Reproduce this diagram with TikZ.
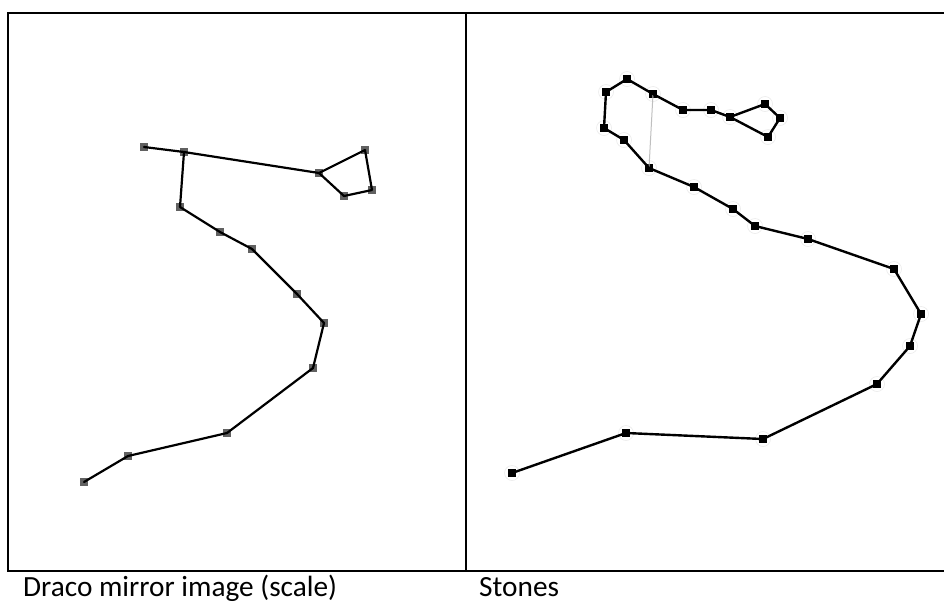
\documentclass[tikz,border=0pt]{standalone}
\usepackage{fontspec}
\setmainfont{Carlito}
\begin{document}
\begin{tikzpicture}[x=1pt,y=-1pt,
  frameline/.style={line width=2.4pt,line cap=rect},
  lstar/.style={rectangle,fill=black!62,minimum size=8.5pt,inner sep=0pt},
  rstar/.style={rectangle,fill=black,minimum size=7.5pt,inner sep=0pt},
  halo/.style={circle,draw=black!8,line width=0.6pt,minimum size=15pt,inner sep=0pt},
  link/.style={line width=2.2pt,line cap=round,line join=round},
  rlink/.style={line width=2.4pt,line cap=round,line join=round},
  faint/.style={line width=1pt,black!25},
  caption/.style={anchor=base west,inner sep=0pt,font=\fontsize{29.3}{31}\selectfont}]
\useasboundingbox (0,0) rectangle (944,603);
\fill[white] (0,0) rectangle (944,603);
% frame
\draw[frameline] (8,13) -- (950,13);
\draw[frameline] (8,571) -- (950,571);
\draw[frameline] (8,13) -- (8,571);
\draw[frameline] (466,13) -- (466,571);
% left panel stars
\foreach \n/\x/\y in {L1/144/147,L2/184/152,L3/319/173,L4/365/150,L5/372/190,L6/344/196,
  L7/180/207,L8/220/232,L9/252/249,L10/297/294,L11/324/323,L12/313/368,L13/227/433,
  L14/128/456,L15/84/482}
  \node[lstar] (\n) at (\x,\y) {};
\draw[link] (L1.center) -- (L2.center) -- (L3.center) -- (L4.center) -- (L5.center) -- (L6.center) -- (L3.center);
\draw[link] (L2.center) -- (L7.center) -- (L8.center) -- (L9.center) -- (L10.center) -- (L11.center)
  -- (L12.center) -- (L13.center) -- (L14.center) -- (L15.center);
% right panel stones
\foreach \n/\x/\y in {R1/627/79,R2/606/92,R3/653/94,R4/683/110,R5/711/110,R6/730/117,
  R7/765/104,R8/780/118,R9/768/137,R10/604/128,R11/624/140,R12/649/168,R13/694/187,
  R14/733/209,R15/755/226,R16/808/239,R17/894/269,R18/921/314,R19/910/346,R20/877/384,
  R21/763/439,R22/626/433,R23/512/473}
  {\node[halo] at (\x,\y) {};
   \node[rstar] (\n) at (\x,\y) {};}
\draw[faint] (R3.center) -- (R12.center);
\draw[rlink] (R12.center) -- (R11.center) -- (R10.center) -- (R2.center) -- (R1.center) -- (R3.center)
  -- (R4.center) -- (R5.center) -- (R6.center) -- (R7.center) -- (R8.center) -- (R9.center) -- (R6.center);
\draw[rlink] (R12.center) -- (R13.center) -- (R14.center) -- (R15.center) -- (R16.center) -- (R17.center)
  -- (R18.center) -- (R19.center) -- (R20.center) -- (R21.center) -- (R22.center) -- (R23.center);
% captions
\node[caption] (capL) at (23,596) {Draco mirror image (scale)};
\node[caption] (capR) at (479,596) {Stones};
\end{tikzpicture}
\end{document}
